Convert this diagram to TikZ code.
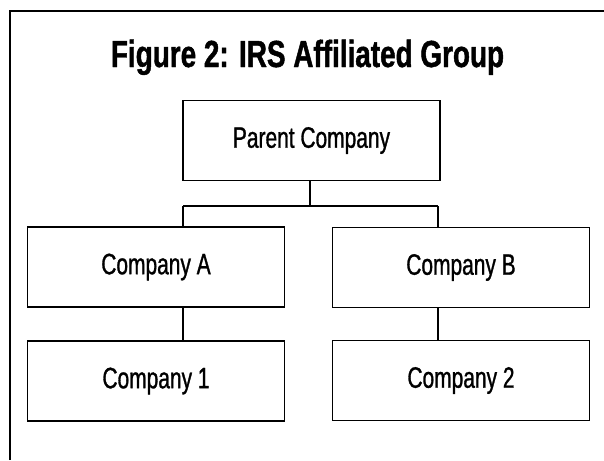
\documentclass[tikz,border=0pt]{standalone}
\usepackage{fontspec}
\newfontfamily\titlefont[FakeStretch=0.74,FakeBold=1.2]{Liberation Sans}
\newfontfamily\boxfont[FakeStretch=0.71,FakeBold=1.0]{Liberation Sans}
\begin{document}
\begin{tikzpicture}[x=1pt,y=-1pt,
  orgbox/.style={draw=black,line width=1.3pt,rectangle,minimum width=257pt,minimum height=80pt,inner sep=0pt,
    font=\boxfont\fontsize{29.5}{32}\selectfont},
  conn/.style={draw=black,line width=2pt},
  frame/.style={draw=black,line width=2pt}]
\useasboundingbox (0,0) rectangle (604,460);
\draw[frame] (9.5,460) -- (9.5,11.5) -- (604,11.5);
\node[anchor=base,inner sep=0pt,font=\titlefont\bfseries\fontsize{37.7}{40}\selectfont] (title) at (307.5,67) {Figure 2: IRS Affiliated Group};
\node[orgbox] (parent) at (311.5,140.5) {Parent Company};
\node[orgbox] (a) at (156,267) {Company A};
\node[orgbox] (b) at (461,267.5) {Company B};
\node[orgbox] (c1) at (156,381) {Company 1};
\node[orgbox] (c2) at (461,380.5) {Company 2};
\coordinate (jl) at (183,206);
\coordinate (jr) at (438,206);
\coordinate (jm) at (310,206);
\draw[conn] (jm |- parent.south) -- (jm);
\draw[conn] (jl) -- (jr);
\draw[conn] (jl) -- (jl |- a.north);
\draw[conn] (jr) -- (jr |- b.north);
\draw[conn] (jl |- a.south) -- (jl |- c1.north);
\draw[conn] (jr |- b.south) -- (jr |- c2.north);
\end{tikzpicture}
\end{document}
